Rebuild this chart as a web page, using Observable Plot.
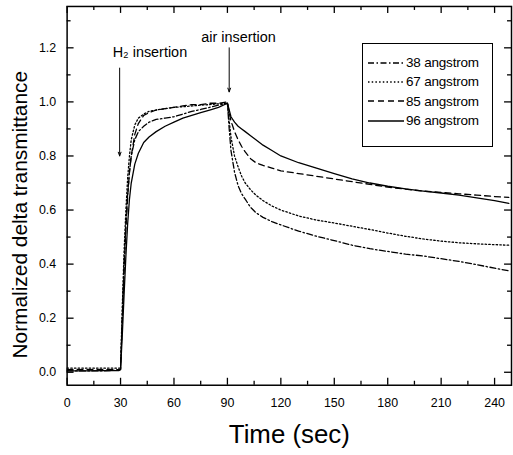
<!DOCTYPE html>
<html><head><meta charset="utf-8">
<script src="https://cdn.jsdelivr.net/npm/d3@7"></script>
<script src="https://cdn.jsdelivr.net/npm/@observablehq/plot@0.6"></script>
<style>
html,body{margin:0;padding:0;background:#fff;overflow:hidden}
#wrap{position:relative;width:513px;height:455px;overflow:hidden;font-family:"Liberation Sans",Arial,sans-serif}
#wrap svg{display:block}
#legend{position:absolute;left:362px;top:43px;width:131px;height:104px;border:1px solid #000;box-sizing:border-box;background:#fff;padding-top:9px}
.row{display:flex;align-items:center;height:19.3px;padding-left:5px}
.row svg{margin-right:2px}
.row span{font-size:13.5px;color:#000;letter-spacing:-0.2px}
</style></head><body><div id="wrap"></div>
<script>
const seriesNames = ["38 angstrom", "67 angstrom", "85 angstrom", "96 angstrom"];
const time = [0,10,20,29, 30,31,32,33,34,35,36, 38,40,43,46,50, 55,60,65,70,75,80,85,90, 91,92,94,96,98,100, 103,106,110,115,120, 130,140,150,160,170,180,190,200,210,220,230,240,248];
const s38 = [0.005,0.005,0.005,0.008, 0.01,0.2,0.4,0.55,0.66,0.74,0.80, 0.86,0.89,0.91,0.925,0.935, 0.94,0.945,0.955,0.965,0.972,0.98,0.988,0.995, 0.9,0.82,0.74,0.69,0.66,0.64, 0.61,0.59,0.573,0.557,0.545, 0.522,0.503,0.487,0.47,0.457,0.447,0.437,0.43,0.42,0.41,0.398,0.385,0.375];
const s67 = [0.015,0.015,0.015,0.015, 0.015,0.25,0.45,0.6,0.72,0.8,0.86, 0.915,0.94,0.955,0.965,0.97, 0.975,0.98,0.982,0.985,0.988,0.99,0.993,0.995, 0.93,0.87,0.80,0.76,0.725,0.70, 0.675,0.655,0.635,0.615,0.60, 0.578,0.563,0.552,0.54,0.528,0.515,0.503,0.493,0.485,0.479,0.475,0.472,0.47];
const s85 = [0.01,0.01,0.01,0.01, 0.012,0.2,0.38,0.53,0.65,0.74,0.80, 0.88,0.92,0.95,0.96,0.97, 0.975,0.98,0.985,0.99,0.99,0.995,0.995,1.0, 0.96,0.93,0.89,0.86,0.835,0.815, 0.79,0.775,0.765,0.755,0.745, 0.735,0.725,0.715,0.705,0.695,0.685,0.677,0.67,0.665,0.66,0.655,0.65,0.647];
const s96 = [0.005,0.005,0.006,0.006, 0.01,0.14,0.29,0.43,0.55,0.64,0.70, 0.77,0.81,0.85,0.87,0.89, 0.91,0.925,0.94,0.95,0.96,0.97,0.98,0.995, 0.97,0.945,0.925,0.91,0.90,0.89, 0.875,0.86,0.84,0.82,0.80, 0.775,0.755,0.735,0.715,0.70,0.688,0.678,0.67,0.663,0.655,0.645,0.635,0.625];
const xTicks = [0,30,60,90,120,150,180,210,240];
const xMinorTicks = [15,45,75,105,135,165,195,225];
const yTicks = [0,0.2,0.4,0.6,0.8,1.0,1.2];
const yMinorTicks = [0.1,0.3,0.5,0.7,0.9,1.1,1.3];
const annotationLabels = ["H₂ insertion", "air insertion"];
const annotationTimes = [29.5, 91];
const annotationFrom = [1.125, 1.2];
const annotationTo = [0.80, 1.037];
const annotationTextY = [1.184, 1.239];
const xLabel = "Time (sec)";
const yLabel = "Normalized delta transmittance";

const dashes = ["6,2.5,1.5,2.5", "1.5,2.2", "6,4", null];
const allValues = [s38, s67, s85, s96];
const series = seriesNames.map((name, i) => ({
  name, dash: dashes[i],
  data: time.map((t, j) => ({t, v: allValues[i][j]}))
}));
const annotations = annotationLabels.map((label, i) => ({
  label, t: annotationTimes[i], from: annotationFrom[i], to: annotationTo[i], ty: annotationTextY[i]
}));

const W = 516, H = 455, mL = 67, mR = 2, mT = 6, mB = 68;
const fw = W - mL - mR, fh = H - mT - mB;
const font = "Liberation Sans, Arial, sans-serif";

const marks = [];
// ticks (inward)
marks.push(Plot.tickX(xTicks, {x: d => d, insetTop: fh - 7, stroke: "black", strokeWidth: 1.3}));
marks.push(Plot.tickX(xTicks, {x: d => d, insetBottom: fh - 7, stroke: "black", strokeWidth: 1.3}));
marks.push(Plot.tickX(xMinorTicks, {x: d => d, insetTop: fh - 4, stroke: "black", strokeWidth: 1.3}));
marks.push(Plot.tickX(xMinorTicks, {x: d => d, insetBottom: fh - 4, stroke: "black", strokeWidth: 1.3}));
marks.push(Plot.tickY(yTicks, {y: d => d, insetRight: fw - 7, stroke: "black", strokeWidth: 1.3}));
marks.push(Plot.tickY(yTicks, {y: d => d, insetLeft: fw - 7, stroke: "black", strokeWidth: 1.3}));
marks.push(Plot.tickY(yMinorTicks, {y: d => d, insetRight: fw - 4, stroke: "black", strokeWidth: 1.3}));
marks.push(Plot.tickY(yMinorTicks, {y: d => d, insetLeft: fw - 4, stroke: "black", strokeWidth: 1.3}));
marks.push(Plot.axisX(xTicks, {tickSize: 0, tickPadding: 13, fontSize: 12.5, label: null, tickFormat: d => String(d)}));
marks.push(Plot.axisY(yTicks, {tickSize: 0, tickPadding: 11, fontSize: 12.5, label: null, tickFormat: d3.format(".1f")}));
marks.push(Plot.frame({stroke: "black", strokeWidth: 1.5}));
// curves
for (const s of series) {
  marks.push(Plot.line(s.data, {x: "t", y: "v", stroke: "black", strokeWidth: 1.3, strokeDasharray: s.dash, curve: "linear"}));
}
// annotations
marks.push(Plot.arrow(annotations, {x1: "t", x2: "t", y1: "from", y2: "to", stroke: "black", strokeWidth: 1, headLength: 6, headAngle: 40}));
marks.push(Plot.text([annotations[0]], {x: "t", y: "ty", text: "label", textAnchor: "start", dx: -7, fontSize: 14.5, fill: "black"}));
marks.push(Plot.text([annotations[1]], {x: "t", y: "ty", text: "label", textAnchor: "start", dx: -28, fontSize: 14.5, fill: "black"}));
// axis titles
marks.push(Plot.text([xLabel], {frameAnchor: "bottom", textAnchor: "middle", lineAnchor: "middle", dy: 50, fontSize: 26, fill: "black"}));
marks.push(Plot.text([yLabel], {frameAnchor: "left", textAnchor: "middle", lineAnchor: "middle", rotate: -90, dx: -47, dy: 19, fontSize: 21, fill: "black"}));

const chart = Plot.plot({
  width: W, height: H,
  marginLeft: mL, marginRight: mR, marginTop: mT, marginBottom: mB,
  style: {fontFamily: font, background: "white", color: "black", overflow: "visible"},
  x: {domain: [0, 249.5]},
  y: {domain: [-0.048, 1.353]},
  marks
});
const wrap = document.getElementById("wrap");
wrap.appendChild(chart);

// legend
const legend = document.createElement("div");
legend.id = "legend";
for (const s of series) {
  const row = document.createElement("div");
  row.className = "row";
  const svg = d3.create("svg").attr("width", 36).attr("height", 10);
  svg.append("line").attr("x1", 0).attr("x2", 36).attr("y1", 5).attr("y2", 5)
    .attr("stroke", "black").attr("stroke-width", 1.3)
    .attr("stroke-dasharray", s.dash);
  row.appendChild(svg.node());
  const span = document.createElement("span");
  span.textContent = s.name;
  row.appendChild(span);
  legend.appendChild(row);
}
wrap.appendChild(legend);
</script></body></html>
